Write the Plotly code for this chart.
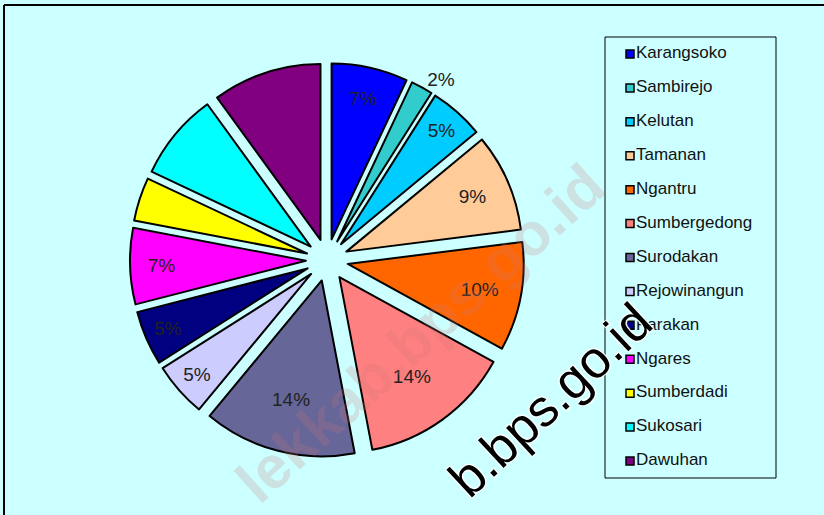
import plotly.graph_objects as go

# ---- data ----
categories = ["Karangsoko", "Sambirejo", "Kelutan", "Tamanan", "Ngantru",
              "Sumbergedong", "Surodakan", "Rejowinangun", "Parakan", "Ngares",
              "Sumberdadi", "Sukosari", "Dawuhan"]
values = [7, 2, 5, 9, 10, 14, 14, 5, 5, 7, 4, 8, 10]
show_label = [True, True, True, True, True, True, True, True, True, True,
              False, False, False]
colors = ["#0000FF", "#33CCCC", "#00CCFF", "#FFCC99", "#FF6600", "#FF8080",
          "#666699", "#CCCCFF", "#000080", "#FF00FF", "#FFFF00", "#00FFFF",
          "#800080"]

FONT = "Liberation Sans, Arial, sans-serif"
BG = "#CCFFFF"
W, H = 824, 515

def px(x):
    return x / W

def py(y):
    return 1 - y / H

cx, cy, R = 327, 260, 197

texttemplate = ["%{percent:.0%}" if s else "" for s in show_label]
textposition = ["outside" if v <= 2 else ("inside" if s else "none")
                for v, s in zip(values, show_label)]

fig = go.Figure()
fig.add_trace(go.Pie(
    labels=categories,
    values=values,
    sort=False,
    direction="clockwise",
    rotation=0,
    pull=0.12,
    marker=dict(colors=colors, line=dict(color="#000000", width=2)),
    texttemplate=texttemplate,
    textposition=textposition,
    insidetextorientation="horizontal",
    textfont=dict(family=FONT, size=19, color="#222222"),
    showlegend=False,
    hoverinfo="label+percent",
    domain=dict(x=[px(cx - R), px(cx + R)], y=[py(cy + R), py(cy - R)]),
))

# legend drawn as a categorical scatter in the legend box
fig.add_trace(go.Scatter(
    x=[0] * len(categories),
    y=categories,
    mode="markers+text",
    marker=dict(symbol="square", size=8, color=colors,
                line=dict(color="#000000", width=1.5)),
    text=categories,
    textposition="middle right",
    textfont=dict(family=FONT, size=17, color="#111111"),
    showlegend=False,
    hoverinfo="skip",
    xaxis="x", yaxis="y",
    cliponaxis=False,
))

lb_l, lb_t, lb_r, lb_b = 605, 37, 776, 478
fig.update_layout(
    width=W, height=H,
    margin=dict(l=0, r=0, t=0, b=0),
    paper_bgcolor=BG,
    plot_bgcolor="rgba(0,0,0,0)",
    font=dict(family=FONT),
    xaxis=dict(domain=[px(lb_l), px(lb_r)], range=[-25, 146], visible=False,
               fixedrange=True),
    yaxis=dict(domain=[py(lb_b), py(lb_t)], type="category",
               range=[len(categories) - 0.5, -0.5], visible=False,
               fixedrange=True),
    shapes=[
        dict(type="rect", xref="paper", yref="paper",
             x0=px(lb_l), x1=px(lb_r), y0=py(lb_b), y1=py(lb_t),
             line=dict(color="#000000", width=1)),
        dict(type="line", xref="paper", yref="paper",
             x0=px(4), x1=1.01, y0=py(5), y1=py(5),
             line=dict(color="#000000", width=2)),
        dict(type="line", xref="paper", yref="paper",
             x0=px(4), x1=px(4), y0=py(5), y1=-0.01,
             line=dict(color="#000000", width=2)),
    ],
    annotations=[
        dict(text="<b>lekkab.bps.go.id</b>", xref="paper", yref="paper",
             x=px(420), y=py(333), xanchor="center", yanchor="middle",
             showarrow=False, textangle=-42,
             font=dict(family=FONT, size=60, color="rgba(205,120,120,0.22)")),
        dict(text="b.bps.go.id", xref="paper", yref="paper",
             x=px(550), y=py(400), xanchor="center", yanchor="middle",
             showarrow=False, textangle=-43,
             font=dict(family=FONT, size=52, color="#000000",
                       shadow="1px 1px 1px white, -1px -1px 1px white, 1px -1px 1px white, -1px 1px 1px white")),
    ],
)

fig.write_html(
    "out.html",
    config={"displayModeBar": False},
    post_script="document.body.style.margin='0';document.body.style.background='" + BG + "';",
)
